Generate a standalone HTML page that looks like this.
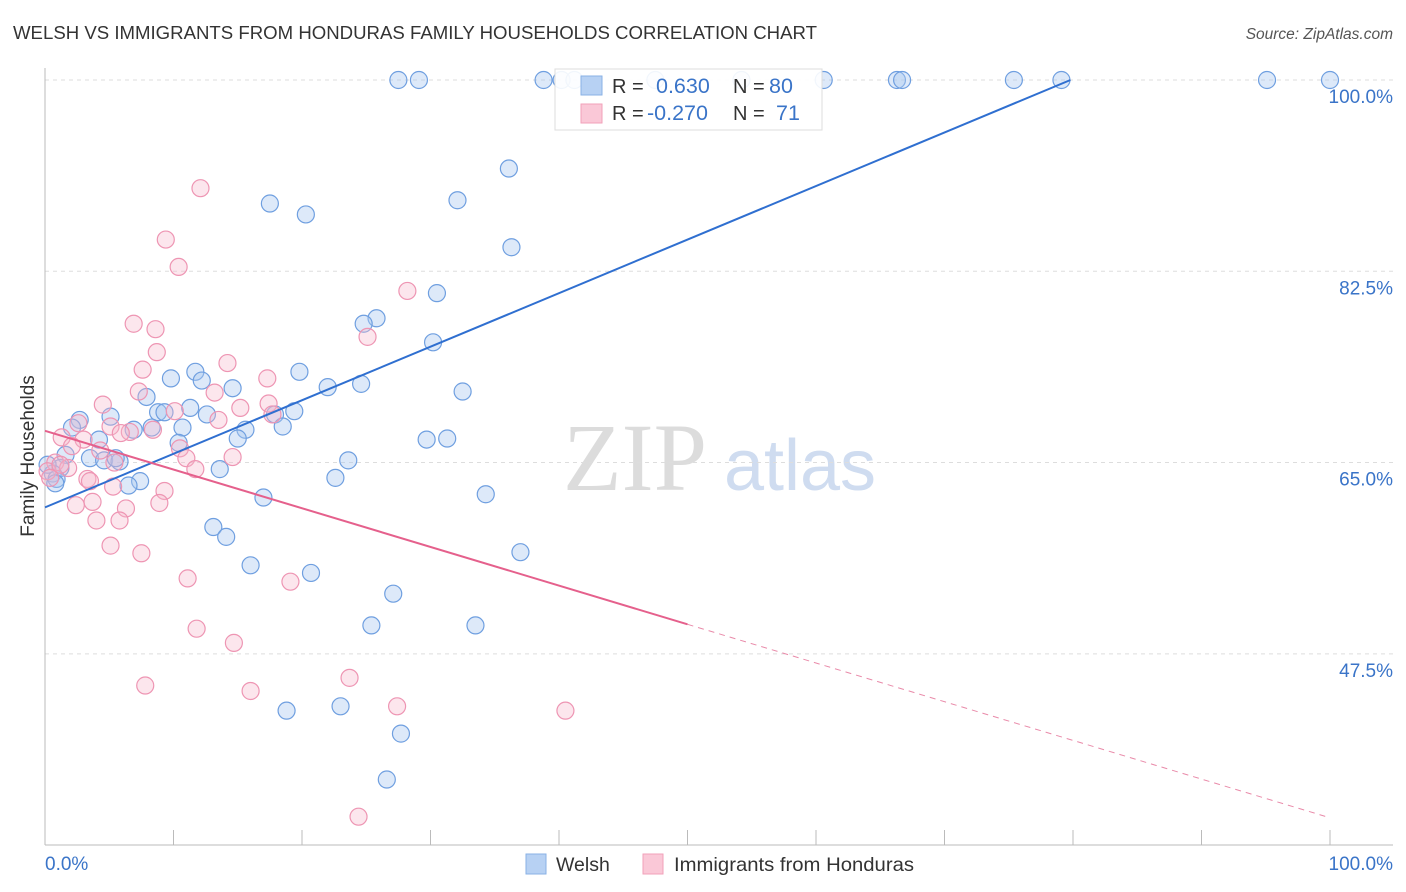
<!DOCTYPE html>
<html><head><meta charset="utf-8">
<style>
body{margin:0;background:#fff;font-family:"Liberation Sans",sans-serif;}
svg{display:block}
</style></head>
<body>
<svg id="chart" width="1406" height="892" xmlns="http://www.w3.org/2000/svg">
<text x="13" y="39" font-size="18" fill="#333" textLength="804" lengthAdjust="spacingAndGlyphs">WELSH VS IMMIGRANTS FROM HONDURAS FAMILY HOUSEHOLDS CORRELATION CHART</text>
<text x="1393" y="39" font-size="15.5" fill="#555" text-anchor="end" font-style="italic">Source: ZipAtlas.com</text>
<g>
<text x="635" y="490" font-size="96" font-family="Liberation Serif,serif" fill="#dcdcdc" text-anchor="middle">ZIP</text>
<text x="800" y="490" font-size="72" fill="#cfdcf0" text-anchor="middle">atlas</text>
</g>
<g id="grid"></g>
<g id="axes"></g>
<g id="pts"></g>
<g id="lines"></g>
<g>
<rect x="555" y="69" width="267" height="61" fill="#fff" fill-opacity="0.9" stroke="#ddd"/>
<rect x="581" y="76" width="21" height="19" fill="#b7d1f3" stroke="#89b1e6"/>
<rect x="581" y="104" width="21" height="19" fill="#fac8d7" stroke="#f1a1ba"/>
<text x="612" y="93" font-size="20" fill="#333">R =</text>
<text x="656" y="93" font-size="21.5" fill="#3a74c8">0.630</text>
<text x="733" y="93" font-size="20" fill="#333">N =</text>
<text x="769" y="93" font-size="21.5" fill="#3a74c8">80</text>
<text x="612" y="120" font-size="20" fill="#333">R =</text>
<text x="647" y="120" font-size="21.5" fill="#3a74c8">-0.270</text>
<text x="733" y="120" font-size="20" fill="#333">N =</text>
<text x="776" y="120" font-size="21.5" fill="#3a74c8">71</text>
</g>
<g>
<rect x="526" y="854" width="20" height="20" fill="#b7d1f3" stroke="#89b1e6"/>
<text x="556" y="871" font-size="19.5" fill="#333">Welsh</text>
<rect x="643" y="854" width="20" height="20" fill="#fac8d7" stroke="#f1a1ba"/>
<text x="674" y="871" font-size="19.5" fill="#333" textLength="240" lengthAdjust="spacingAndGlyphs">Immigrants from Honduras</text>
</g>
<text transform="translate(34,456) rotate(-90)" font-size="19" fill="#333" text-anchor="middle">Family Households</text>
<text x="45" y="870" font-size="19" fill="#3a74c8">0.0%</text>
<text x="1393" y="870" font-size="19" fill="#3a74c8" text-anchor="end">100.0%</text>
</svg>
<script>
const yTicks=[100,82.5,65,47.5];
const yTickLabels=["100.0%","82.5%","65.0%","47.5%"];
const welshX=[27.5,29.1,38.8,40.2,41.2,47.5,54.2,60.6,66.3,66.7,75.4,79.1,95.1,100,36.1,32.1,17.5,20.3,36.3,30.5,25.8,24.8,30.2,11.7,19.8,9.8,12.2,14.6,22.0,24.6,32.5,7.9,11.3,8.8,9.3,12.6,19.4,17.9,2.7,5.1,2.1,6.9,10.7,8.3,15.6,15.0,18.5,4.2,10.4,29.7,31.3,1.6,3.5,4.6,5.8,5.5,23.6,1.2,0.6,0.9,0.8,7.4,6.5,13.6,22.6,17.0,34.3,13.1,14.1,16.0,37.0,20.7,27.1,25.4,33.5,18.8,23.0,27.7,26.6,0.2];
const welshY=[100,100,100,100,100,100,100,100,100,100,100,100,100,100,91.9,89.0,88.7,87.7,84.7,80.5,78.2,77.7,76.0,73.3,73.3,72.7,72.5,71.8,71.9,72.2,71.5,71.0,70.0,69.6,69.6,69.4,69.7,69.4,68.9,69.2,68.2,68.0,68.2,68.2,68.0,67.2,68.3,67.1,66.8,67.1,67.2,65.7,65.4,65.2,65.1,65.4,65.2,64.5,64.0,63.5,63.1,63.3,62.9,64.4,63.6,61.8,62.1,59.1,58.2,55.6,56.8,54.9,53.0,50.1,50.1,42.3,42.7,40.2,36.0,64.8];
const hondX=[12.1,9.4,10.4,28.2,6.9,8.6,25.1,8.7,14.2,7.6,17.3,7.3,13.2,15.2,10.1,17.4,4.5,13.5,17.7,2.6,1.3,6.6,5.1,5.9,3.0,8.4,10.5,11.0,14.6,2.1,4.3,0.8,1.8,0.2,11.7,5.4,3.3,3.5,5.3,9.3,3.7,2.4,8.9,6.3,4.0,5.8,5.1,7.5,11.1,19.1,11.8,14.7,7.8,16.0,23.7,27.4,40.5,24.4,0.4,1.2];
const hondY=[90.1,85.4,82.9,80.7,77.7,77.2,76.5,75.1,74.1,73.5,72.7,71.5,71.4,70.0,69.7,70.4,70.3,68.9,69.4,68.6,67.3,67.8,68.3,67.7,67.1,68.0,66.3,65.4,65.5,66.5,66.1,65.0,64.5,64.2,64.4,65.0,63.5,63.3,62.8,62.4,61.4,61.1,61.3,60.8,59.7,59.7,57.4,56.7,54.4,54.1,49.8,48.5,44.6,44.1,45.3,42.7,42.3,32.6,63.6,64.8];
const welshTrend=[[0,60.9],[79.8,100]];
const hondTrendSolid=[[0,67.9],[50,50.2]];
const hondTrendDash=[[50,50.2],[100,32.5]];

const NS="http://www.w3.org/2000/svg";
const sx=v=>45+v*12.85;
const sy=v=>80+(100-v)*10.93;
function mk(tag,attrs,parent){const e=document.createElementNS(NS,tag);for(const k in attrs)e.setAttribute(k,attrs[k]);parent.appendChild(e);return e;}
const grid=document.getElementById('grid'),axes=document.getElementById('axes'),pts=document.getElementById('pts'),lines=document.getElementById('lines');
yTicks.forEach((t,i)=>{
  const l=mk('line',{x1:45,x2:1393,y1:sy(t),y2:sy(t),stroke:'#ddd','stroke-dasharray':'4,4'},grid);
  
  
  const tx=mk('text',{x:1393,y:sy(t)+23,'font-size':19,fill:'#3a74c8','text-anchor':'end'},grid);
  tx.textContent=yTickLabels[i];
  
  
});
const ax=mk('line',{x1:45,x2:1393,y1:845,y2:845,stroke:'#bbb'},axes);


const ay=mk('line',{x1:45,x2:45,y1:68,y2:845,stroke:'#bbb'},axes);


for(let i=0;i<=10;i++){
  const t=mk('line',{x1:sx(i*10),x2:sx(i*10),y1:830,y2:845,stroke:'#bbb'},axes);
  
  
}
welshX.forEach((x,i)=>{
  const c=mk('circle',{cx:sx(x),cy:sy(welshY[i]),r:8.5,fill:'#a9c8f0','fill-opacity':0.4,stroke:'#6f9fe0','stroke-width':1.2},pts);
  
  
});
hondX.forEach((x,i)=>{
  const c=mk('circle',{cx:sx(x),cy:sy(hondY[i]),r:8.5,fill:'#f7b8cc','fill-opacity':0.35,stroke:'#ee95b3','stroke-width':1.2},pts);
  
  
});
const l1=mk('line',{x1:sx(welshTrend[0][0]),y1:sy(welshTrend[0][1]),x2:sx(welshTrend[1][0]),y2:sy(welshTrend[1][1]),stroke:'#2f6fd0','stroke-width':2},lines);


const l2=mk('line',{x1:sx(hondTrendSolid[0][0]),y1:sy(hondTrendSolid[0][1]),x2:sx(hondTrendSolid[1][0]),y2:sy(hondTrendSolid[1][1]),stroke:'#e5608c','stroke-width':2},lines);


const l3=mk('line',{x1:sx(hondTrendDash[0][0]),y1:sy(hondTrendDash[0][1]),x2:sx(hondTrendDash[1][0]),y2:sy(hondTrendDash[1][1]),stroke:'#e98aa9','stroke-width':1,'stroke-dasharray':'6,5'},lines);


</script>
</body></html>
